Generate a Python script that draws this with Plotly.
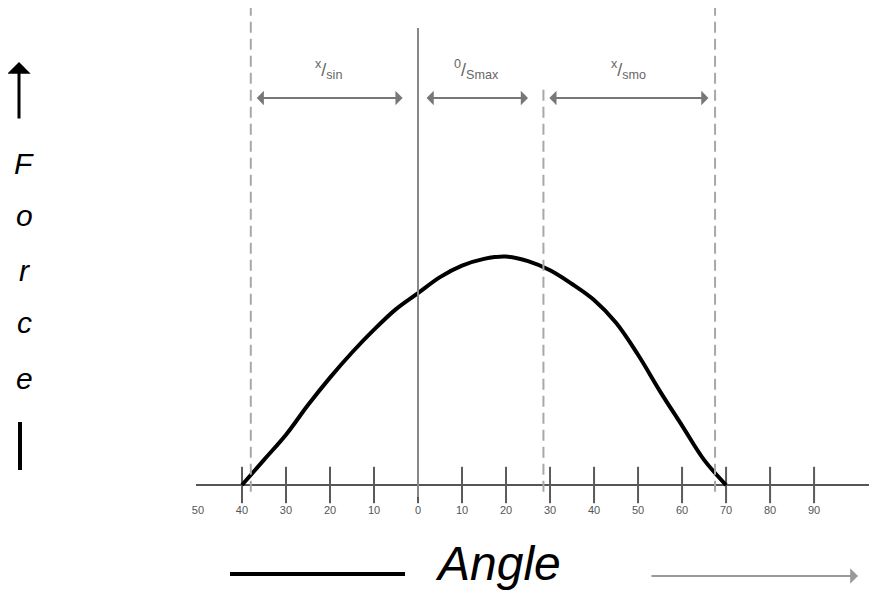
import plotly.graph_objects as go

# data (force normalised so the peak is 100)
angle = [-40, -35, -30, -25, -20, -15, -10, -5, 0, 5, 10, 15, 20, 25, 30, 35, 40, 45, 50, 55, 60, 65, 70]
force = [0, 11, 22, 35, 47, 58, 68, 77, 84, 91, 96, 99, 100, 98, 94, 88, 81, 71, 57, 41, 26, 11, 0]

tick_vals = [-50, -40, -30, -20, -10, 0, 10, 20, 30, 40, 50, 60, 70, 80, 90]
tick_text = ["50", "40", "30", "20", "10", "0", "10", "20", "30", "40", "50", "60", "70", "80", "90"]
tick_marks = [-40, -30, -20, -10, 0, 10, 20, 30, 40, 50, 60, 70, 80, 90]

phase_bounds = [-38, 0, 28.5, 67.5]
phase_labels = ["<sup>x</sup>/<sub>sin</sub>", "<sup>0</sup>/<sub>Smax</sub>", "<sup>x</sup>/<sub>smo</sub>"]
force_letters = ["F", "o", "r", "c", "e"]

# page has an 8px body margin, so the figure is shifted by 8px and positions
# below are given in page pixels
OFF = 8
W, H = 877 - OFF, 596 - OFF
PL, PR, PT, PB = 196, 877, 8, 497   # plot area in page pixels


def px_x(p):
    return (p - PL) / (PR - PL)


def px_y(p):
    return (PB - p) / (PB - PT)


fig = go.Figure()

# angle axis tick marks (cross the axis line)
fig.add_trace(go.Scatter(
    x=tick_marks, y=[0] * len(tick_marks), mode="markers",
    marker=dict(symbol="line-ns-open", size=26, color="#5a5a5a",
                line=dict(color="#5a5a5a", width=2)),
    cliponaxis=False, hoverinfo="skip"
))

# force curve
fig.add_trace(go.Scatter(
    x=angle, y=force, mode="lines",
    line=dict(color="black", width=4, shape="spline", smoothing=1.0),
    cliponaxis=False, hoverinfo="skip"
))

# phase boundary lines
for i, b in enumerate(phase_bounds):
    if b == 0:
        fig.add_shape(type="line", x0=b, x1=b, y0=-5.2, y1=200,
                      line=dict(color="#888888", width=2))
    else:
        top = 173 if i == 2 else 209
        fig.add_shape(type="line", x0=b, x1=b, y0=-3, y1=top,
                      line=dict(color="#a8a8a8", width=2, dash="11px,6px"))

# phase arrows and labels
gaps = [(1, 3.5), (1.6, 3.5), (1, 1.5)]
for i in range(3):
    a0 = phase_bounds[i] + gaps[i][0]
    a1 = phase_bounds[i + 1] - gaps[i][1]
    fig.add_annotation(x=a1, y=169.4, ax=a0, ay=169.4, axref="x", ayref="y",
                       xref="x", yref="y", text="", showarrow=True,
                       arrowside="end+start", arrowhead=1, arrowsize=1.2,
                       arrowwidth=2, arrowcolor="#777777")
    fig.add_annotation(x=(a0 + a1) / 2, y=182, xref="x", yref="y",
                       xanchor="center", yanchor="middle",
                       text=phase_labels[i], showarrow=False,
                       font=dict(family="Liberation Sans", size=18, color="#666666"))

# vertical "Force" label with arrow
fig.add_annotation(x=px_x(19), y=px_y(62), xref="paper", yref="paper",
                   ax=0, ay=58, text="", showarrow=True, arrowhead=1,
                   arrowsize=1.3, arrowwidth=3, arrowcolor="black")
letter_y = [163, 216, 270, 322, 378]
for ch, yy in zip(force_letters, letter_y):
    fig.add_annotation(x=px_x(24), y=px_y(yy), xref="paper", yref="paper",
                       xanchor="center", yanchor="middle",
                       text="<i>" + ch + "</i>", showarrow=False,
                       font=dict(family="Liberation Sans", size=30, color="black"))
fig.add_shape(type="line", xref="paper", yref="paper",
              x0=px_x(20), x1=px_x(20), y0=px_y(422), y1=px_y(470),
              line=dict(color="black", width=4))

# "Angle" label
fig.add_shape(type="line", xref="paper", yref="paper",
              x0=px_x(230), x1=px_x(405), y0=px_y(574), y1=px_y(574),
              line=dict(color="black", width=4))
fig.add_annotation(x=px_x(498), y=px_y(563), xref="paper", yref="paper",
                   xanchor="center", yanchor="middle",
                   text="<i>Angle</i>", showarrow=False,
                   font=dict(family="Liberation Sans", size=48, color="black"))
fig.add_annotation(x=px_x(858), y=px_y(576), xref="paper", yref="paper",
                   ax=-208, ay=0, text="", showarrow=True, arrowhead=1,
                   arrowsize=1.3, arrowwidth=2, arrowcolor="#999999")

fig.update_layout(
    width=W, height=H,
    margin=dict(l=PL - OFF, r=0, t=0, b=H - (PB - OFF)),
    paper_bgcolor="white", plot_bgcolor="white",
    showlegend=False,
    xaxis=dict(range=[-50.45, 104.3], tickvals=tick_vals, ticktext=tick_text,
               showgrid=False, zeroline=False, showline=False, ticks="",
               ticklabelstandoff=5,
               tickfont=dict(family="Liberation Sans", size=11, color="#555555")),
    yaxis=dict(range=[-5.25, 208.8], showgrid=False, showticklabels=False,
               ticks="", showline=False, zeroline=True,
               zerolinecolor="#555555", zerolinewidth=2),
)

fig.write_html("out.html")
